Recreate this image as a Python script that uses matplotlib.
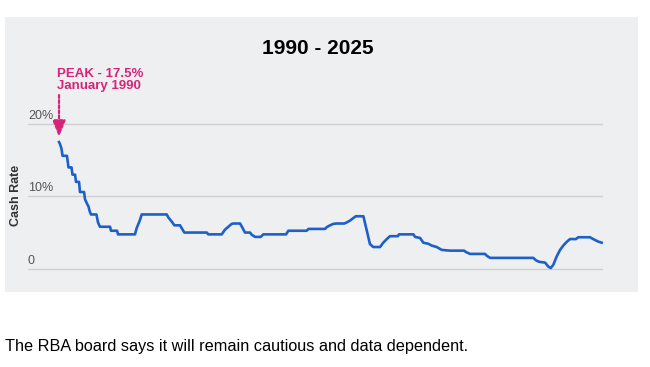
import matplotlib
matplotlib.use("Agg")
import matplotlib.pyplot as plt
from matplotlib.patches import Rectangle

plt.rcParams['font.family'] = ['Liberation Sans', 'DejaVu Sans']

# RBA cash rate (decimal year, %)
years = [1990.00, 1990.07, 1990.16, 1990.23, 1990.52, 1990.62, 1990.82, 1990.88,
         1991.05, 1991.11, 1991.31, 1991.37, 1991.64, 1991.70, 1991.83, 1991.93,
         1992.00, 1992.09, 1992.45, 1992.55, 1992.68, 1993.34, 1993.40, 1993.80,
         1993.86, 1994.97, 1995.08, 1995.30, 1995.41, 1997.05, 1997.15, 1997.38,
         1997.55, 1997.92, 1998.03, 1998.20, 1999.67, 1999.77, 2000.65, 2000.86,
         2001.08, 2001.30, 2001.41, 2001.85, 2002.02, 2002.17, 2002.50, 2002.61,
         2002.83, 2003.20, 2003.37, 2004.86, 2005.01, 2006.21, 2006.32, 2007.41,
         2007.52, 2007.74, 2007.95, 2008.17, 2008.67, 2008.83, 2009.04, 2009.26,
         2009.42, 2009.92, 2010.35, 2010.57, 2011.01, 2011.22, 2011.45, 2011.66,
         2012.17, 2012.25, 2013.19, 2013.30, 2013.63, 2013.84, 2014.17, 2014.39,
         2014.72, 2015.05, 2015.59, 2016.51, 2016.64, 2016.90, 2017.88, 2017.99,
         2018.21, 2021.04, 2021.22, 2021.44, 2021.81, 2022.02, 2022.18, 2022.35,
         2022.57, 2022.79, 2023.00, 2023.22, 2023.44, 2023.83, 2023.98, 2024.75,
         2024.96, 2025.29, 2025.51]
rate = [17.5, 17.2, 16.6, 15.6, 15.6, 14.0, 14.0, 13.0,
        13.0, 12.0, 12.0, 10.6, 10.6, 9.6, 9.0, 8.6,
        8.0, 7.5, 7.5, 6.4, 5.8, 5.8, 5.25, 5.25,
        4.75, 4.75, 5.6, 6.75, 7.5, 7.5, 7.1, 6.5,
        6.0, 6.0, 5.6, 5.0, 5.0, 4.75, 4.75, 5.4,
        5.8, 6.2, 6.25, 6.25, 5.6, 5.0, 5.0, 4.7,
        4.4, 4.4, 4.75, 4.75, 5.25, 5.25, 5.5, 5.5,
        5.75, 6.0, 6.2, 6.25, 6.25, 6.4, 6.65, 7.0,
        7.25, 7.25, 3.4, 3.0, 3.0, 3.6, 4.1, 4.5,
        4.5, 4.75, 4.75, 4.4, 4.25, 3.6, 3.45, 3.2,
        3.0, 2.6, 2.5, 2.5, 2.3, 2.05, 2.05, 1.8,
        1.5, 1.5, 1.15, 0.95, 0.85, 0.3, 0.1, 0.55,
        1.7, 2.6, 3.2, 3.7, 4.1, 4.1, 4.35, 4.35,
        4.1, 3.75, 3.6]

yticks = [0, 10, 20]
ytick_labels = ['0', '10%', '20%']

pink = '#d8237a'

fig = plt.figure(figsize=(6.5, 3.67), dpi=100)

# grey panel behind the chart
fig.patches.append(Rectangle((5 / 650, 75 / 367), 633 / 650, 275 / 367,
                             transform=fig.transFigure, facecolor='#eeeff1',
                             edgecolor='none', zorder=-10))

ax = fig.add_axes([28 / 650, 0.2283, 575 / 650, 0.4733])
ax.set_zorder(5)
ax.set_facecolor('none')
ax.set_xlim(1987.97, 2025.6)
ax.set_ylim(-2, 22)

for v, lab in zip(yticks, ytick_labels):
    ax.axhline(v, color='#cfcfcf', lw=1, zorder=1)
    ax.annotate(lab, xy=(0, v), xycoords=('axes fraction', 'data'),
                xytext=(0, 1.5), textcoords='offset points',
                ha='left', va='bottom', fontsize=9, color='#555555')

ax.plot(years, rate, color='#1f5fc8', lw=1.9, zorder=3,
        solid_joinstyle='round', clip_on=False)

ax.set_xticks([])
ax.set_yticks([])
for s in ax.spines.values():
    s.set_visible(False)

# peak annotation
ax.annotate('', xy=(years[0], 18.2), xytext=(years[0], 24.0),
            arrowprops=dict(arrowstyle='-|>,head_length=0.55,head_width=0.22',
                            color=pink, lw=1.6,
                            linestyle=(0, (1.3, 1.0)), mutation_scale=18,
                            shrinkA=0, shrinkB=0),
            annotation_clip=False)
fig.text(57 / 650, 1 - 77 / 367, 'PEAK - 17.5%', color=pink, fontsize=9.5,
         fontweight='bold', ha='left', va='baseline')
fig.text(57 / 650, 1 - 89 / 367, 'January 1990', color=pink, fontsize=9.5,
         fontweight='bold', ha='left', va='baseline')

fig.text(318 / 650, 1 - 48.5 / 367, '1990 - 2025', fontsize=15,
         fontweight='bold', ha='center', va='center', color='black')

fig.text(16 / 650, 1 - 195 / 367, 'Cash Rate', rotation=90, fontsize=9,
         fontweight='bold', ha='center', va='center', color='#333333')

fig.text(5 / 650, 1 - 351 / 367,
         'The RBA board says it will remain cautious and data dependent.',
         fontsize=11.7, ha='left', va='baseline', color='black')

fig.savefig('out.png', dpi=100)
